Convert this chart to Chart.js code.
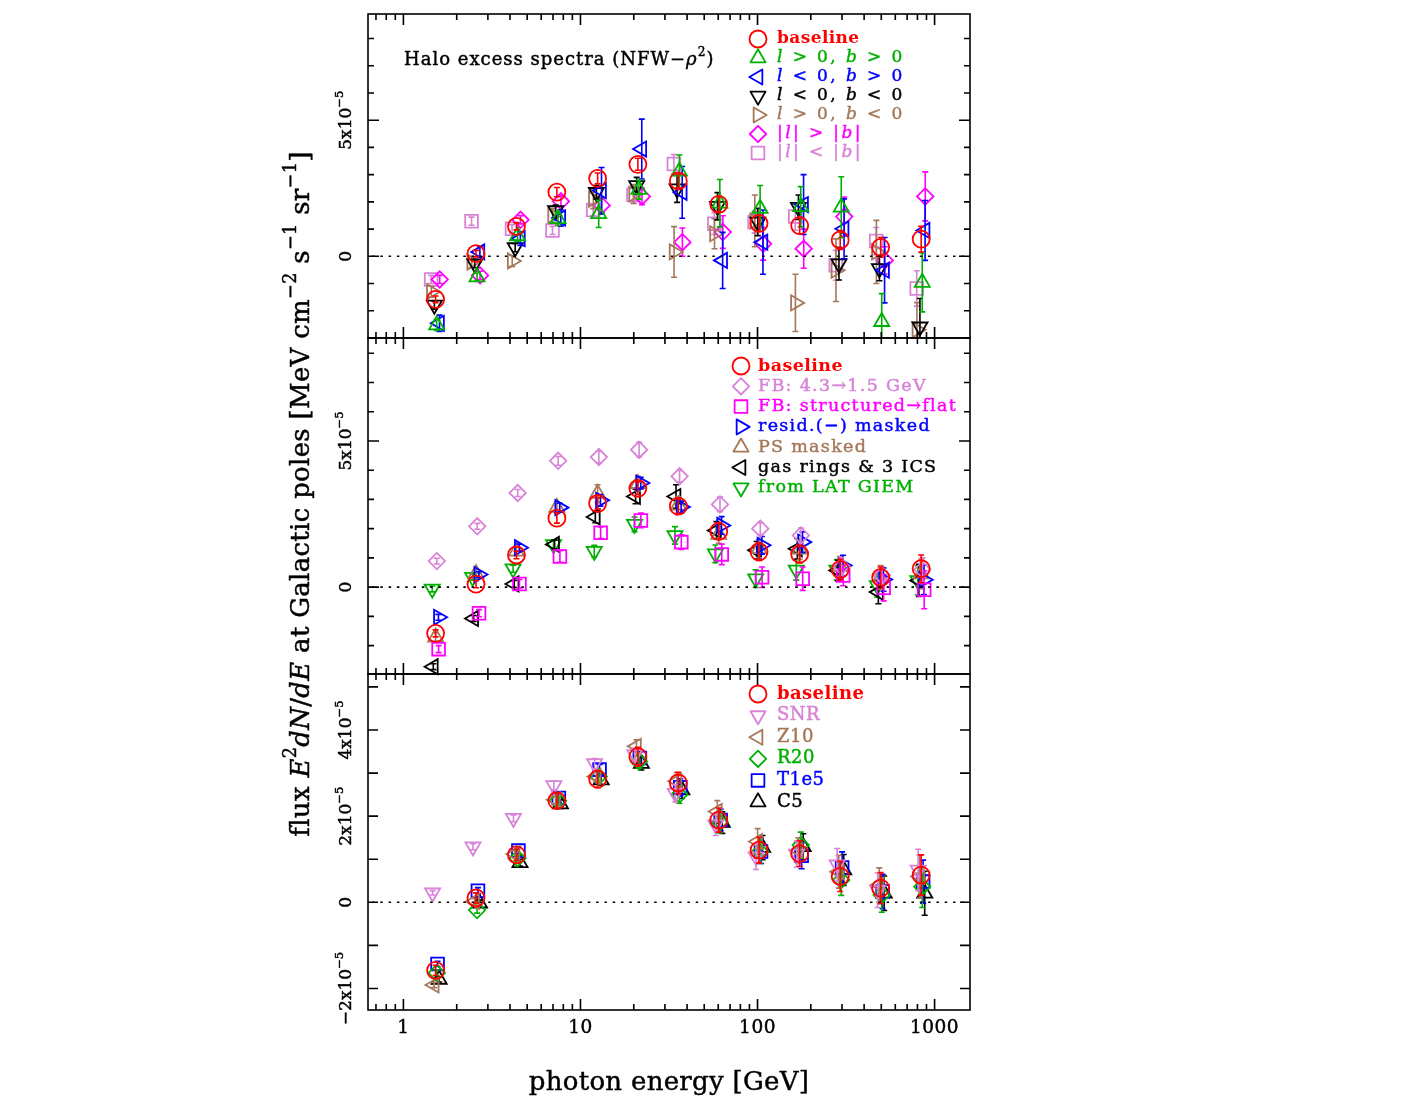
<!DOCTYPE html>
<html><head><meta charset="utf-8">
<script src="https://cdn.jsdelivr.net/npm/chart.js@4/dist/chart.umd.min.js"></script>
<style>
html,body{margin:0;padding:0;background:#fff;}
#wrap{position:relative;width:1416px;height:1099px;overflow:hidden;background:#fff;}
canvas{position:absolute;left:0;top:0;}
</style></head><body>
<div id="wrap">
<canvas id="c1" width="1416" height="1099"></canvas>
<canvas id="c2" width="1416" height="1099"></canvas>
<canvas id="c3" width="1416" height="1099"></canvas>
</div>
<script>
// ---------------- DATA (flux in units of 1e-5 MeV cm^-2 s^-1 sr^-1) ----------------
const energyGeV = [1.52, 2.57, 4.35, 7.36, 12.5, 21.1, 35.7, 60.4, 102, 173, 293, 496, 840];

const baseline    = [-1.58, 0.10, 1.10, 2.36, 2.86, 3.38, 2.77, 1.91, 1.21, 1.13, 0.60, 0.33, 0.63];
const baselineErr = [0.12, 0.12, 0.13, 0.17, 0.20, 0.22, 0.25, 0.28, 0.30, 0.30, 0.35, 0.36, 0.47];

// top panel: sky regions
const qLpBp    = [-2.52, -0.76, 0.75, 1.38, 1.56, 2.45, 3.12, 1.95, 1.76, 1.82, 1.80, -2.40, -0.96];
const qLpBpErr = [0.20, 0.15, 0.20, 0.25, 0.50, 0.35, 0.60, 0.87, 0.84, 0.74, 1.12, 1.03, 1.08];
const qLmBp    = [-2.46, 0.16, 0.65, 1.41, 2.41, 3.94, 2.35, -0.15, 0.52, 1.90, 1.01, -0.51, 0.95];
const qLmBpErr = [0.30, 0.20, 0.25, 0.30, 0.85, 1.10, 0.95, 1.03, 1.18, 1.10, 1.10, 1.20, 1.10];
const qLmBm    = [-1.79, -0.27, 0.32, 1.68, 2.35, 2.60, 2.48, 1.84, 1.26, 1.80, -0.27, -0.45, -2.59];
const qLmBmErr = [0.15, 0.15, 0.15, 0.20, 0.25, 0.30, 0.50, 0.50, 0.50, 0.45, 0.60, 0.45, 1.04];
const qLpBm    = [-1.30, -0.21, -0.17, 1.50, 2.10, 2.29, 0.16, 0.83, 1.30, -1.71, -0.51, 0.16, -2.70];
const qLpBmErr = [0.20, 0.20, 0.20, 0.25, 0.35, 0.35, 0.93, 0.55, 0.95, 1.05, 1.15, 1.16, 1.00];
const lGtB     = [-0.85, -0.70, 1.34, 2.02, 1.87, 2.20, 0.52, 0.89, 0.46, 0.28, 1.46, -0.15, 2.20];
const lGtBErr  = [0.15, 0.15, 0.15, 0.20, 0.25, 0.30, 0.52, 0.60, 0.60, 0.72, 0.72, 0.50, 0.90];
const lLtB     = [-0.85, 1.29, 1.01, 0.95, 1.70, 2.26, 3.39, 1.20, 1.26, 1.46, -0.33, 0.56, -1.18];
const lLtBErr  = [0.15, 0.15, 0.15, 0.15, 0.20, 0.30, 0.35, 0.40, 0.40, 0.50, 0.55, 0.50, 0.65];

// middle panel: model variations
const fb43        = [0.89, 2.08, 3.22, 4.32, 4.45, 4.70, 3.79, 2.83, 2.00, 1.77, 0.71, 0.40, 0.60];
const fb43Err     = [0.10, 0.10, 0.12, 0.15, 0.20, 0.25, 0.20, 0.25, 0.20, 0.25, 0.30, 0.30, 0.40];
const fbFlat      = [-2.12, -0.89, 0.11, 1.05, 1.86, 2.28, 1.54, 1.12, 0.34, 0.29, 0.40, -0.02, -0.09];
const fbFlatErr   = [0.12, 0.12, 0.15, 0.20, 0.20, 0.25, 0.25, 0.35, 0.35, 0.40, 0.35, 0.45, 0.65];
const residMasked = [-1.03, 0.43, 1.35, 2.72, 2.97, 3.56, 2.74, 2.11, 1.43, 1.54, 0.74, 0.26, 0.25];
const residErr    = [0.10, 0.10, 0.12, 0.15, 0.20, 0.20, 0.20, 0.30, 0.30, 0.35, 0.35, 0.40, 0.50];
const psMasked    = [-1.71, 0.46, 1.23, 2.72, 3.20, 3.54, 2.80, 1.80, 1.31, 1.30, 0.70, 0.34, 0.45];
const psErr       = [0.15, 0.15, 0.15, 0.20, 0.30, 0.25, 0.30, 0.30, 0.30, 0.35, 0.35, 0.40, 0.50];
const gasRings    = [-2.72, -1.07, 0.11, 1.46, 2.40, 3.10, 3.10, 1.94, 1.26, 1.31, 0.57, -0.17, 0.23];
const gasErr      = [0.10, 0.10, 0.12, 0.15, 0.20, 0.25, 0.40, 0.30, 0.30, 0.35, 0.35, 0.40, 0.55];
const latGiem     = [-0.06, 0.34, 0.63, 1.46, 1.23, 2.15, 1.77, 1.14, 0.29, 0.59, 0.59, 0.06, 0.23];
const latGiemErr  = [0.10, 0.10, 0.12, 0.15, 0.20, 0.25, 0.30, 0.30, 0.30, 0.35, 0.35, 0.40, 0.50];

// bottom panel: CR source / halo variations
const snr     = [0.22, 1.29, 1.95, 2.71, 3.22, 3.43, 2.53, 1.80, 1.06, 1.12, 0.87, 0.28, 0.75];
const snrErr  = [0.05, 0.07, 0.08, 0.10, 0.12, 0.15, 0.20, 0.25, 0.30, 0.30, 0.38, 0.40, 0.48];
const z10     = [-1.92, 0.02, 1.12, 2.38, 2.92, 3.62, 2.81, 2.11, 1.41, 1.20, 0.71, 0.40, 0.60];
const z10Err  = [0.06, 0.07, 0.08, 0.10, 0.12, 0.15, 0.20, 0.25, 0.30, 0.30, 0.38, 0.40, 0.50];
const r20     = [-1.64, -0.18, 1.02, 2.36, 2.92, 3.27, 2.50, 1.86, 1.18, 1.33, 0.52, 0.17, 0.36];
const r20Err  = [0.06, 0.07, 0.08, 0.10, 0.12, 0.15, 0.20, 0.25, 0.28, 0.30, 0.36, 0.40, 0.48];
const t1e5    = [-1.43, 0.27, 1.20, 2.42, 3.08, 3.35, 2.67, 1.91, 1.18, 1.08, 0.81, 0.25, 0.48];
const t1e5Err = [0.06, 0.07, 0.08, 0.10, 0.12, 0.15, 0.20, 0.25, 0.28, 0.30, 0.36, 0.40, 0.50];
const c5      = [-1.79, -0.02, 0.92, 2.28, 2.84, 3.22, 2.61, 1.85, 1.27, 1.29, 0.75, 0.21, 0.21];
const c5Err   = [0.06, 0.07, 0.08, 0.10, 0.12, 0.15, 0.20, 0.25, 0.28, 0.30, 0.36, 0.40, 0.51];

// labels
const topLabels = ['baseline', '*l* > 0, *b* > 0', '*l* < 0, *b* > 0', '*l* < 0, *b* < 0', '*l* > 0, *b* < 0', '|*l*| > |*b*|', '|*l*| < |*b*|'];
const midLabels = ['baseline', 'FB: 4.3→1.5 GeV', 'FB: structured→flat', 'resid.(−) masked', 'PS masked', 'gas rings & 3 ICS', 'from LAT GIEM'];
const botLabels = ['baseline', 'SNR', 'Z10', 'R20', 'T1e5', 'C5'];
const xTickValues = [1, 10, 100, 1000];
const xTickLabels = ['1', '10', '100', '1000'];
const topYTicks = [0, 5];           const topYTickLabels = ['0', '5x10{−5}'];
const midYTicks = [0, 5];           const midYTickLabels = ['0', '5x10{−5}'];
const botYTicks = [-2, 0, 2, 4];    const botYTickLabels = ['−2x10{−5}', '0', '2x10{−5}', '4x10{−5}'];
const panelTitle = 'Halo excess spectra (NFW−*ρ*{2})';
const xTitle = 'photon energy [GeV]';
const yTitle = 'flux *E*{2}*dN*/*dE* at Galactic poles [MeV cm{−2} s{−1} sr{−1}]';

// ---------------- STYLE ----------------
const FONT = '"DejaVu Serif", "Liberation Serif", serif';
const C = {red:'#ff0000', green:'#00b000', blue:'#0000ff', black:'#000000', brown:'#a5785a', magenta:'#ff00ff', plum:'#d882d8'};
const M = {
  circle:  {shape:'circle', rot:0, r:8.5},
  up:      {shape:'triangle', rot:0, r:8.7},
  right:   {shape:'triangle', rot:90, r:8.7},
  down:    {shape:'triangle', rot:180, r:8.7},
  left:    {shape:'triangle', rot:270, r:8.7},
  diamond: {shape:'rectRot', rot:0, r:8.2},
  square:  {shape:'rect', rot:0, r:9.0}
};
const FRAME = {left:368, right:970, W:1416, H:1099};
const TEXT_WEIGHT = 0.45; // thin outline to thicken text strokes

const panels = [
  {id:'c1', top:14, bottom:338, yMin:-3.0, yMax:8.9, minorStep:1, majorStep:5, minorLen:6, majorLen:11,
   yTicks:topYTicks, yTickLabels:topYTickLabels, legend:{x:758, tx:777, y0:39, dy:19.0, size:17, sp:2.4},
   series:[
    {label:topLabels[0], v:baseline, e:baselineErr, m:M.circle, c:C.red, dex:0, bold:true},
    {label:topLabels[1], v:qLpBp, e:qLpBpErr, m:M.up, c:C.green, dex:0.006},
    {label:topLabels[2], v:qLmBp, e:qLmBpErr, m:M.left, c:C.blue, dex:0.022},
    {label:topLabels[3], v:qLmBm, e:qLmBmErr, m:M.down, c:C.black, dex:-0.007},
    {label:topLabels[4], v:qLpBm, e:qLpBmErr, m:M.right, c:C.brown, dex:-0.024},
    {label:topLabels[5], v:lGtB, e:lGtBErr, m:M.diamond, c:C.magenta, dex:0.023},
    {label:topLabels[6], v:lLtB, e:lLtBErr, m:M.square, c:C.plum, dex:-0.025}
   ]},
  {id:'c2', top:338, bottom:674, yMin:-2.97, yMax:8.52, minorStep:1, majorStep:5, minorLen:6, majorLen:11,
   yTicks:midYTicks, yTickLabels:midYTickLabels, legend:{x:741, tx:758, y0:366, dy:20.3, size:17.5, sp:1.3},
   series:[
    {label:midLabels[0], v:baseline, e:baselineErr, m:M.circle, c:C.red, dex:0, bold:true},
    {label:midLabels[1], v:fb43, e:fb43Err, m:M.diamond, c:C.plum, dex:0.007},
    {label:midLabels[2], v:fbFlat, e:fbFlatErr, m:M.square, c:C.magenta, dex:0.017},
    {label:midLabels[3], v:residMasked, e:residErr, m:M.right, c:C.blue, dex:0.016},
    {label:midLabels[4], v:psMasked, e:psErr, m:M.up, c:C.brown, dex:0},
    {label:midLabels[5], v:gasRings, e:gasErr, m:M.left, c:C.black, dex:-0.013},
    {label:midLabels[6], v:latGiem, e:latGiemErr, m:M.down, c:C.green, dex:-0.019}
   ]},
  {id:'c3', top:674, bottom:1010, yMin:-2.5, yMax:5.3, minorStep:1, majorStep:1, minorLen:10, majorLen:10,
   yTicks:botYTicks, yTickLabels:botYTickLabels, legend:{x:758, tx:777, y0:694, dy:21.6, size:18, sp:0.5},
   series:[
    {label:botLabels[0], v:baseline, e:baselineErr, m:M.circle, c:C.red, dex:0, bold:true},
    {label:botLabels[1], v:snr, e:snrErr, m:M.down, c:C.plum, dex:-0.017},
    {label:botLabels[2], v:z10, e:z10Err, m:M.left, c:C.brown, dex:-0.008},
    {label:botLabels[3], v:r20, e:r20Err, m:M.diamond, c:C.green, dex:0.006},
    {label:botLabels[4], v:t1e5, e:t1e5Err, m:M.square, c:C.blue, dex:0.011},
    {label:botLabels[5], v:c5, e:c5Err, m:M.up, c:C.black, dex:0.020}
   ]}
];

// ---------------- HELPERS ----------------
function parseRich(str) {
  const segs = []; let cur = '', it = false, sup = false;
  const push = () => { if (cur) segs.push({t:cur, it, sup}); cur = ''; };
  for (const ch of str) {
    if (ch === '*') { push(); it = !it; }
    else if (ch === '{') { push(); sup = true; }
    else if (ch === '}') { push(); sup = false; }
    else cur += ch;
  }
  push();
  return segs;
}
function segFont(s, size, bold) {
  const sz = s.sup ? size * 0.68 : size;
  return (s.it ? 'italic ' : '') + (bold ? 'bold ' : '') + sz.toFixed(1) + 'px ' + FONT;
}
function drawRich(ctx, str, x, y, size, align, bold, spacing) {
  const segs = parseRich(str);
  const sp = spacing || 0;
  if ('letterSpacing' in ctx) ctx.letterSpacing = sp + 'px';
  let w = 0;
  segs.forEach(s => { ctx.font = segFont(s, size, bold); s.w = ctx.measureText(s.t).width; w += s.w; });
  let cx = align === 'center' ? x - w / 2 : x;
  ctx.textBaseline = 'middle'; ctx.textAlign = 'left';
  ctx.strokeStyle = ctx.fillStyle; ctx.lineWidth = TEXT_WEIGHT; ctx.lineJoin = 'round';
  segs.forEach(s => {
    ctx.font = segFont(s, size, bold);
    const yy = s.sup ? y - size * 0.42 : y;
    ctx.fillText(s.t, cx, yy);
    if (!bold) ctx.strokeText(s.t, cx, yy);
    cx += s.w;
  });
  if ('letterSpacing' in ctx) ctx.letterSpacing = '0px';
}
function markerPath(ctx, m, x, y) {
  const r = m.r; ctx.beginPath();
  if (m.shape === 'circle') { ctx.arc(x, y, r, 0, Math.PI * 2); }
  else if (m.shape === 'triangle') {
    let rad = m.rot * Math.PI / 180;
    for (let k = 0; k < 3; k++) {
      const px = x + Math.sin(rad) * r, py = y - Math.cos(rad) * r;
      if (k === 0) ctx.moveTo(px, py); else ctx.lineTo(px, py);
      rad += 2 * Math.PI / 3;
    }
    ctx.closePath();
  } else if (m.shape === 'rect') { const s = r * Math.SQRT1_2; ctx.rect(x - s, y - s, 2 * s, 2 * s); }
  else if (m.shape === 'rectRot') { ctx.moveTo(x - r, y); ctx.lineTo(x, y - r); ctx.lineTo(x + r, y); ctx.lineTo(x, y + r); ctx.closePath(); }
}

const errorBarPlugin = {
  id: 'errorBars',
  afterDatasetDraw(chart, args) {
    const ds = chart.data.datasets[args.index];
    if (!ds.errorBars) return;
    const ys = chart.scales.y, ctx = chart.ctx, a = chart.chartArea;
    ctx.save();
    ctx.beginPath(); ctx.rect(a.left, a.top, a.right - a.left, a.bottom - a.top); ctx.clip();
    ctx.strokeStyle = ds.pointBorderColor; ctx.lineWidth = 1.6;
    args.meta.data.forEach((pt, i) => {
      const v = ds.data[i].y, e = ds.errorBars[i];
      const y1 = ys.getPixelForValue(v - e), y2 = ys.getPixelForValue(v + e);
      ctx.beginPath();
      ctx.moveTo(pt.x, y1); ctx.lineTo(pt.x, y2);
      ctx.moveTo(pt.x - 3, y1); ctx.lineTo(pt.x + 3, y1);
      ctx.moveTo(pt.x - 3, y2); ctx.lineTo(pt.x + 3, y2);
      ctx.stroke();
    });
    ctx.restore();
  }
};

function framePlugin(p, idx) {
  return {
    id: 'frame' + idx,
    afterDraw(chart) {
      const ctx = chart.ctx, a = chart.chartArea, xs = chart.scales.x, ys = chart.scales.y;
      ctx.save();
      // zero line
      ctx.strokeStyle = '#000'; ctx.lineWidth = 1.6; ctx.setLineDash([2.5, 5.8]);
      const y0 = ys.getPixelForValue(0);
      ctx.beginPath(); ctx.moveTo(a.left + 4, y0); ctx.lineTo(a.right, y0); ctx.stroke();
      ctx.setLineDash([]);
      // frame
      ctx.lineWidth = 1.6;
      ctx.strokeRect(a.left, a.top, a.right - a.left, a.bottom - a.top);
      // x ticks (inward, top & bottom)
      ctx.beginPath();
      for (let d = -1; d <= 3; d++) {
        for (let k = 1; k <= 9; k++) {
          const v = k * Math.pow(10, d);
          if (v < xs.min || v > xs.max) continue;
          const px = xs.getPixelForValue(v), len = k === 1 ? 11 : 6;
          ctx.moveTo(px, a.bottom); ctx.lineTo(px, a.bottom - len);
          ctx.moveTo(px, a.top); ctx.lineTo(px, a.top + len);
        }
      }
      // y ticks (inward, left & right)
      for (let v = Math.ceil(p.yMin); v <= p.yMax; v += p.minorStep) {
        const py = ys.getPixelForValue(v);
        const len = (Math.abs(v % p.majorStep) < 1e-9) ? p.majorLen : p.minorLen;
        ctx.moveTo(a.left, py); ctx.lineTo(a.left + len, py);
        ctx.moveTo(a.right, py); ctx.lineTo(a.right - len, py);
      }
      ctx.stroke();
      // y tick labels (rotated)
      ctx.fillStyle = '#000';
      p.yTicks.forEach((v, i) => {
        ctx.save();
        ctx.translate(347, ys.getPixelForValue(v));
        ctx.rotate(-Math.PI / 2);
        drawRich(ctx, p.yTickLabels[i], 0, 0, 17, 'center', false, 0);
        ctx.restore();
      });
      // legend
      const L = p.legend;
      p.series.forEach((s, i) => {
        const y = L.y0 + i * L.dy;
        ctx.strokeStyle = s.c; ctx.lineWidth = 1.8;
        markerPath(ctx, s.m, L.x, y); ctx.stroke();
        ctx.fillStyle = s.c;
        drawRich(ctx, s.label, L.tx, y, L.size, 'left', !!s.bold, s.bold ? 0.4 : L.sp);
      });
      ctx.fillStyle = '#000';
      if (idx === 0) drawRich(ctx, panelTitle, 404, 60, 18, 'left', false, 1.0);
      if (idx === 1) {
        ctx.save(); ctx.translate(302, 494); ctx.rotate(-Math.PI / 2);
        drawRich(ctx, yTitle, 0, 0, 26, 'center', false, 0.3);
        ctx.restore();
      }
      if (idx === 2) {
        xTickValues.forEach((v, i) => drawRich(ctx, xTickLabels[i], xs.getPixelForValue(v), 1028, 18.5, 'center', false, 0.5));
        drawRich(ctx, xTitle, (a.left + a.right) / 2, 1083, 26, 'center', false, 0.3);
      }
      ctx.restore();
    }
  };
}

panels.forEach((p, idx) => {
  const datasets = p.series.map(s => ({
    label: s.label.replace(/\*/g, ''),
    data: energyGeV.map((e, i) => ({x: e * Math.pow(10, s.dex), y: s.v[i]})),
    errorBars: s.e,
    showLine: false,
    pointStyle: s.m.shape,
    pointRotation: s.m.rot,
    pointRadius: s.m.r,
    pointHoverRadius: s.m.r,
    pointBorderColor: s.c,
    pointBackgroundColor: 'rgba(0,0,0,0)',
    pointBorderWidth: 1.8,
    clip: false
  }));
  new Chart(document.getElementById(p.id), {
    type: 'scatter',
    data: {datasets},
    options: {
      responsive: false, animation: false, events: [],
      layout: {padding: {left: FRAME.left, right: FRAME.W - FRAME.right, top: p.top, bottom: FRAME.H - p.bottom}},
      scales: {
        x: {type: 'logarithmic', min: 0.631, max: 1585, bounds: 'data', display: false},
        y: {type: 'linear', min: p.yMin, max: p.yMax, bounds: 'data', display: false}
      },
      plugins: {legend: {display: false}, tooltip: {enabled: false}}
    },
    plugins: [errorBarPlugin, framePlugin(p, idx)]
  });
});
</script>
</body></html>
